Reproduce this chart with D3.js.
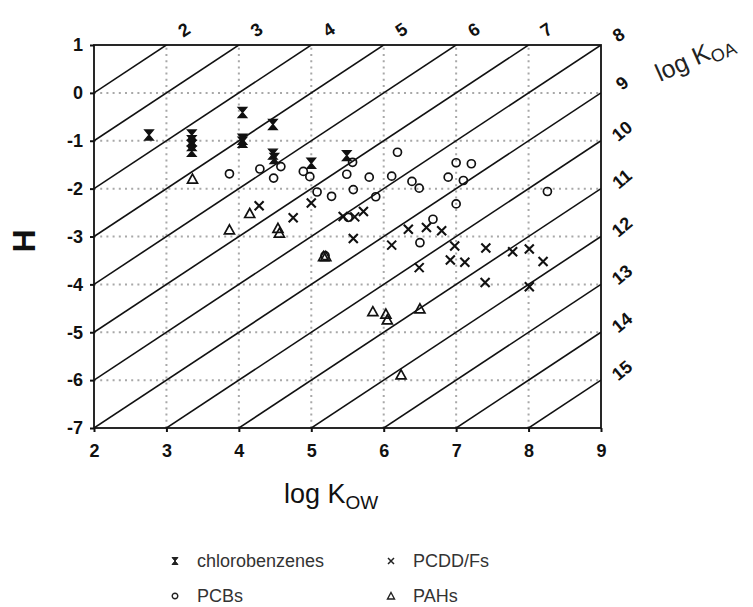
<!DOCTYPE html>
<html>
<head>
<meta charset="utf-8">
<script src="https://cdn.jsdelivr.net/npm/d3@7"></script>
<style>
  body { margin: 0; background: #fff; }
  text { font-family: "Liberation Sans", Arial, sans-serif; }
</style>
</head>
<body>
<div id="wrapper"></div>
<script>
// log Kow, H readings per compound class
const chlorobenzenes = [
    [2.76, -0.88], [3.35, -0.88], [3.35, -1.0], [3.35, -1.1], [3.35, -1.22],
    [4.05, -0.41], [4.05, -0.97], [4.05, -1.03], [4.47, -0.66], [4.47, -1.28],
    [4.49, -1.37], [5.0, -1.47], [5.49, -1.31]
];
const pcbs = [
    [3.87, -1.69], [4.29, -1.59], [4.48, -1.78], [4.58, -1.54], [4.89, -1.64],
    [4.98, -1.75], [5.08, -2.07], [5.28, -2.16], [5.49, -1.70], [5.57, -1.45],
    [5.58, -2.02], [5.80, -1.76], [5.89, -2.17], [5.51, -2.60], [6.11, -1.74],
    [6.19, -1.24], [6.39, -1.85], [6.49, -1.99], [6.68, -2.64], [6.50, -3.13],
    [6.89, -1.76], [7.0, -1.46], [7.21, -1.48], [7.10, -1.83], [7.0, -2.32],
    [8.26, -2.06], [5.19, -3.40]
];
const pcddfs = [
    [4.28, -2.36], [4.75, -2.61], [5.0, -2.30], [5.44, -2.58], [5.60, -2.59],
    [5.72, -2.48], [5.58, -3.04], [6.11, -3.18], [6.34, -2.85], [6.59, -2.81],
    [6.80, -2.88], [6.49, -3.65], [6.98, -3.20], [6.92, -3.49], [7.12, -3.54],
    [7.41, -3.24], [7.40, -3.96], [7.78, -3.32], [8.01, -3.26], [8.20, -3.52],
    [8.01, -4.05]
];
const pahs = [
    [3.36, -1.80], [3.87, -2.86], [4.15, -2.52], [4.54, -2.83], [4.56, -2.93],
    [5.17, -3.42], [5.20, -3.42], [5.85, -4.57], [6.03, -4.62], [6.05, -4.74],
    [6.50, -4.51], [6.24, -5.89]
];

const xTicks = [2, 3, 4, 5, 6, 7, 8, 9];
const yTicks = [-7, -6, -5, -4, -3, -2, -1, 0, 1];
const koaLines = [2, 3, 4, 5, 6, 7, 8, 9, 10, 11, 12, 13, 14, 15];
const koaTopLabels = [2, 3, 4, 5, 6, 7, 8];
const koaRightLabels = [9, 10, 11, 12, 13, 14, 15];

const width = 753;
const height = 607;
const plot = { left: 94, right: 601, top: 45, bottom: 428 };

const svg = d3.select("#wrapper")
    .append("svg")
    .attr("width", width)
    .attr("height", height);

const x = d3.scaleLinear().domain([2, 9]).range([plot.left, plot.right]);
const y = d3.scaleLinear().domain([-7, 1]).range([plot.bottom, plot.top]);

svg.append("clipPath").attr("id", "clip")
    .append("rect")
    .attr("x", plot.left).attr("y", plot.top)
    .attr("width", plot.right - plot.left)
    .attr("height", plot.bottom - plot.top);

// dotted grid
const grid = svg.append("g")
    .attr("stroke", "#a8a8a8")
    .attr("stroke-width", 2)
    .attr("stroke-dasharray", "2,4.2");

grid.selectAll(".gx")
    .data(xTicks.slice(1, -1))
    .join("line")
    .attr("x1", d => x(d)).attr("x2", d => x(d))
    .attr("y1", plot.bottom).attr("y2", plot.top);

grid.selectAll(".gy")
    .data(yTicks.slice(1, -1))
    .join("line")
    .attr("y1", d => y(d)).attr("y2", d => y(d))
    .attr("x1", plot.left).attr("x2", plot.right);

// iso log Koa lines: H = logKow - logKoa
svg.append("g")
    .attr("clip-path", "url(#clip)")
    .selectAll("line")
    .data(koaLines)
    .join("line")
    .attr("x1", d => x(2)).attr("y1", d => y(2 - d))
    .attr("x2", d => x(9)).attr("y2", d => y(9 - d))
    .attr("stroke", "#111")
    .attr("stroke-width", 1.6);

// frame
svg.append("rect")
    .attr("x", plot.left).attr("y", plot.top)
    .attr("width", plot.right - plot.left)
    .attr("height", plot.bottom - plot.top)
    .attr("fill", "none")
    .attr("stroke", "#111")
    .attr("stroke-width", 1.8);

const xAxis = svg.append("g")
    .attr("transform", `translate(0,${plot.bottom})`)
    .call(d3.axisBottom(x).tickValues(xTicks).tickFormat(d => String(d)).tickSize(4).tickPadding(12));
const yAxis = svg.append("g")
    .attr("transform", `translate(${plot.left},0)`)
    .call(d3.axisLeft(y).tickValues(yTicks).tickFormat(d => String(d)).tickSize(4).tickPadding(7));

[xAxis, yAxis].forEach(ax => {
    ax.select(".domain").remove();
    ax.selectAll("line").attr("stroke", "#111").attr("stroke-width", 2);
    ax.selectAll("text")
        .attr("fill", "#111")
        .style("font-size", "18px")
        .style("font-weight", "bold");
});

// log Koa labels
svg.append("g")
    .selectAll("text")
    .data(koaTopLabels)
    .join("text")
    .attr("transform", d => `translate(${x(d + 1) + 21},${d === 8 ? 40 : 35}) rotate(-33)`)
    .attr("text-anchor", "middle")
    .style("font-size", "18px")
    .style("font-weight", "bold")
    .attr("fill", "#111")
    .text(d => d);

svg.append("g")
    .selectAll("text")
    .data(koaRightLabels)
    .join("text")
    .attr("transform", d => `translate(${x(9) + 25},${y(9 - d) - 5}) rotate(-40)`)
    .attr("text-anchor", "middle")
    .style("font-size", "18px")
    .style("font-weight", "bold")
    .attr("fill", "#111")
    .text(d => d);

const koaTitle = svg.append("text")
    .attr("transform", "translate(660,82) rotate(-24)")
    .style("font-size", "25px")
    .attr("fill", "#222");
koaTitle.append("tspan").text("log K");
koaTitle.append("tspan").attr("dy", 5).style("font-size", "18px").text("OA");

const kowTitle = svg.append("text")
    .attr("x", 284).attr("y", 503)
    .style("font-size", "27px")
    .attr("fill", "#111");
kowTitle.append("tspan").text("log K");
kowTitle.append("tspan").attr("dy", 6).style("font-size", "19px").text("OW");

svg.append("text")
    .attr("transform", "translate(35,241) rotate(-90)")
    .attr("text-anchor", "middle")
    .style("font-size", "32px")
    .style("font-weight", "bold")
    .attr("fill", "#111")
    .text("H");

// markers
const hourglass = "M-4.2,-5H4.2L-4.2,5H4.2Z";
const cross = "M-4.5,-4.5L4.5,4.5M-4.5,4.5L4.5,-4.5";
const triangle = "M0,-5L5,4H-5Z";

const marks = svg.append("g").attr("clip-path", "url(#clip)");

marks.selectAll(".pcb")
    .data(pcbs)
    .join("circle")
    .attr("cx", d => x(d[0])).attr("cy", d => y(d[1]))
    .attr("r", 4)
    .attr("fill", "none").attr("stroke", "#111").attr("stroke-width", 1.7);

marks.selectAll(".pah")
    .data(pahs)
    .join("path")
    .attr("transform", d => `translate(${x(d[0])},${y(d[1])})`)
    .attr("d", triangle)
    .attr("fill", "none").attr("stroke", "#111").attr("stroke-width", 1.7);

marks.selectAll(".pcdd")
    .data(pcddfs)
    .join("path")
    .attr("transform", d => `translate(${x(d[0])},${y(d[1])})`)
    .attr("d", cross)
    .attr("fill", "none").attr("stroke", "#111").attr("stroke-width", 2.1);

marks.selectAll(".cb")
    .data(chlorobenzenes)
    .join("path")
    .attr("transform", d => `translate(${x(d[0])},${y(d[1])})`)
    .attr("d", hourglass)
    .attr("fill", "#111").attr("stroke", "#111").attr("stroke-width", 1.4);

// legend
const legendItems = [
    { label: "chlorobenzenes", shape: "cb", lx: 175, ly: 561 },
    { label: "PCDD/Fs", shape: "pcdd", lx: 391, ly: 561 },
    { label: "PCBs", shape: "pcb", lx: 175, ly: 596 },
    { label: "PAHs", shape: "pah", lx: 391, ly: 596 }
];

const legend = svg.append("g");
legendItems.forEach(item => {
    const g = legend.append("g").attr("transform", `translate(${item.lx},${item.ly})`);
    if (item.shape === "cb") {
        g.append("path").attr("d", "M-3,-3.5H3L-3,3.5H3Z").attr("fill", "#222").attr("stroke", "#222");
    } else if (item.shape === "pcdd") {
        g.append("path").attr("d", "M-3,-3L3,3M-3,3L3,-3").attr("stroke", "#222").attr("stroke-width", 1.5);
    } else if (item.shape === "pcb") {
        g.append("circle").attr("r", 2.8).attr("fill", "none").attr("stroke", "#222").attr("stroke-width", 1.4);
    } else {
        g.append("path").attr("d", "M0,-3.5L3.5,3H-3.5Z").attr("fill", "none").attr("stroke", "#222").attr("stroke-width", 1.4);
    }
    g.append("text")
        .attr("x", 22).attr("y", 6)
        .style("font-size", "18px")
        .attr("fill", "#333")
        .text(item.label);
});
</script>
</body>
</html>
